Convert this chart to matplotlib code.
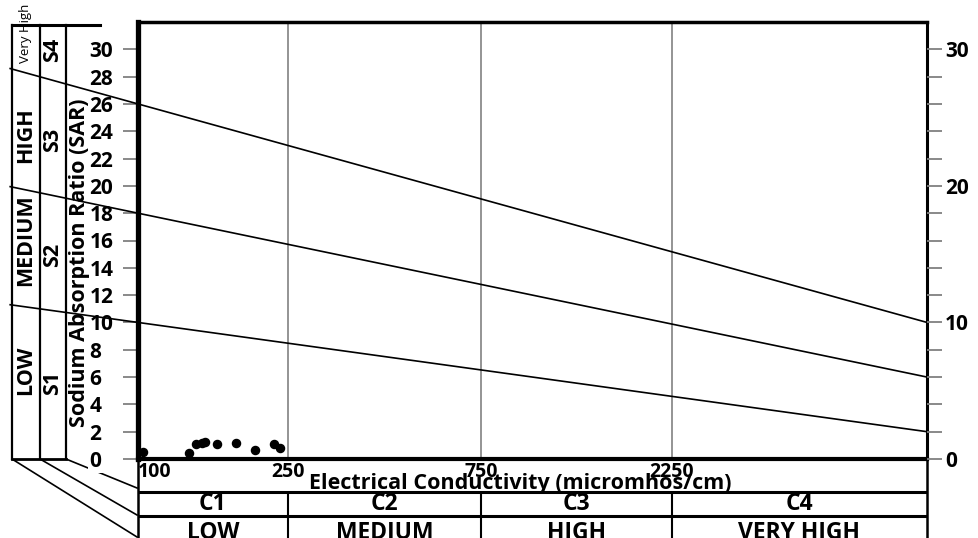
import numpy as np
import matplotlib.pyplot as plt
from matplotlib.ticker import NullLocator

plt.rcParams['font.family'] = ['Open Sans', 'DejaVu Sans']
plt.rcParams['font.weight'] = 'bold'
plt.rcParams['axes.labelweight'] = 'bold'

# ---------------------------
# Data
# ---------------------------
# water samples: conductivity (micromhos/cm) and sodium adsorption ratio
ec = [105, 151, 158, 164, 167, 179, 198, 217, 236, 242]
sar = [0.54, 0.42, 1.10, 1.20, 1.23, 1.08, 1.15, 0.66, 1.12, 0.79]

# sodium hazard boundaries: SAR at the low-EC end and at the high-EC end
bound_left = [10, 18, 26]
bound_right = [2, 6, 10]

ec_ticks = [100, 250, 750, 2250]
ec_max = 5000
c_classes = ["C1", "C2", "C3", "C4"]
c_names = ["LOW", "MEDIUM", "HIGH", "VERY HIGH"]
s_classes = ["S1", "S2", "S3", "S4"]
s_names = ["LOW", "MEDIUM", "HIGH", "Very High"]
sar_ticks = list(range(0, 31, 2))

# conductivity axis: piecewise stretch, one block per salinity class
ec_knots = ec_ticks + [ec_max]
pos_knots = [0, 150, 343, 534, 789]


def fwd(v):
    return np.interp(v, ec_knots, pos_knots)


def inv(p):
    return np.interp(p, pos_knots, ec_knots)


# ---------------------------
# Figure layout (pixels)
# ---------------------------
W, H = 979, 538
L, R, T, B = 138, 927, 22, 459

fig = plt.figure(figsize=(W / 100, H / 100), dpi=100)

# background layer for the class panels on the left
ov = fig.add_axes([0, 0, 1, 1])
ov.set_xlim(0, W)
ov.set_ylim(H, 0)
ov.axis("off")
ov.set_zorder(0)

ax = fig.add_axes([L / W, 1 - B / H, (R - L) / W, (B - T) / H])
ax.set_zorder(2)
ax.patch.set_alpha(0)
ax.set_xscale("function", functions=(fwd, inv))
ax.set_xlim(ec_ticks[0], ec_max)
ax.set_ylim(0, 32)

# class grid lines
for x in ec_ticks[1:]:
    ax.axvline(x, color="#777777", lw=1.1, zorder=1)

# hazard boundary lines, carried on through the left panels
x0 = -0.162
for yl, yr in zip(bound_left, bound_right):
    ax.plot([x0, 1], [yl + (yr - yl) * x0, yr], transform=ax.get_yaxis_transform(),
            color="black", lw=1.2, clip_on=False)

ax.scatter(ec, sar, s=34, color="black", zorder=4, clip_on=False)

ax.spines["left"].set_linewidth(3.8)
ax.spines["bottom"].set_linewidth(3)
ax.spines["top"].set_linewidth(2.5)
ax.spines["right"].set_linewidth(2.2)

ax.set_yticks(sar_ticks)
ax.tick_params(axis="y", length=11, width=1.3, color="#808080", pad=24, labelsize=15)
for t in ax.yaxis.get_major_ticks():
    t.label1.set_horizontalalignment("left")
ax.yaxis.get_major_ticks()[0].label1.set_bbox(dict(facecolor="white", edgecolor="none", pad=1))

ax.set_xticks(ec_ticks, [str(v) for v in ec_ticks])
ax.xaxis.set_minor_locator(NullLocator())
ax.tick_params(axis="x", length=0, pad=2, labelsize=14)
ax.xaxis.get_major_ticks()[0].label1.set_horizontalalignment("left")

ax.set_xlabel("Electrical Conductivity (micromhos/cm)", fontsize=15.5)
ax.xaxis.set_label_coords(0.484, -0.033)
ax.set_ylabel("Sodium Absorption Ratio (SAR)", fontsize=15.5)
ax.yaxis.set_label_coords(-0.061, 0.45)

# right-hand SAR scale
ax2 = ax.twinx()
ax2.set_zorder(2)
ax2.set_ylim(0, 32)
ax2.set_yticks(sar_ticks, [str(v) if v % 10 == 0 else "" for v in sar_ticks])
ax2.tick_params(axis="y", length=11, width=1.3, color="#808080", pad=2, labelsize=15)
for s in ax2.spines.values():
    s.set_visible(False)

# ---------------------------
# Left panels: sodium hazard classes
# ---------------------------
for x in [12, 40, 66]:
    ov.plot([x, x], [25, B], color="black", lw=1.6)
ov.plot([12, 100], [25, 25], color="black", lw=2.2)
ov.plot([12, 66], [B, B], color="black", lw=2)
for xs, ye in zip([12, 40, 66], [537, 515, 488]):
    ov.plot([xs, 137], [B, ye], color="black", lw=1.2)

for name, y in zip(s_names[:3], [370, 240, 135]):
    ov.text(26, y, name, rotation=90, ha="center", va="center", fontsize=15.5)
ov.text(26, 33, s_names[3], rotation=90, ha="center", va="center", fontsize=9.5,
        fontweight="normal")
for name, y in zip(s_classes, [383, 255, 140, 50]):
    ov.text(53, y, name, rotation=90, ha="center", va="center", fontsize=15.5)

# ---------------------------
# Bottom table: salinity hazard classes
# ---------------------------
axt = fig.add_axes([L / W, 0, (R - L) / W, (H - B) / H], sharex=ax)
axt.set_ylim(H, B)
axt.axis("off")
axt.set_zorder(1)
axt.hlines([492, 516], ec_ticks[0], ec_max, color="black", lw=2.2, clip_on=False)
axt.vlines(ec_ticks[1:], 492, H, color="black", lw=1.5, clip_on=False)
axt.vlines([ec_ticks[0], ec_max], B, H, color="black", lw=1.8, clip_on=False)

for i in range(4):
    mid = inv((fwd(ec_knots[i]) + fwd(ec_knots[i + 1])) / 2)
    axt.text(mid, 504, c_classes[i], ha="center", va="center", fontsize=16.5)
    axt.text(mid, 539, c_names[i], ha="center", va="baseline", fontsize=16.5)

fig.savefig("out.png", dpi=100)
